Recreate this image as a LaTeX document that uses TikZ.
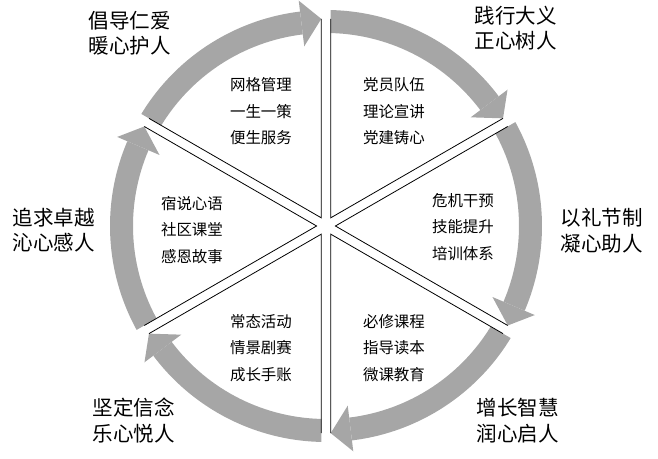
\documentclass[tikz,border=0pt]{standalone}
\usepackage{fontspec}
\usepackage{tikz}
\usetikzlibrary{calc}
\newfontfamily\cjk{Noto Sans CJK SC}
\definecolor{RingGray}{RGB}{166,166,166}

\begin{document}
\begin{tikzpicture}[x=0.75pt,y=0.75pt,
  motto/.style={align=center,font=\cjk\fontsize{15.4pt}{19.1pt}\selectfont},
  task/.style={align=center,font=\cjk\fontsize{11.6pt}{19.9pt}\selectfont}]
\useasboundingbox (-326,-233) rectangle (332,226);
\coordinate (C) at (0,0);
\foreach \s [count=\k] in {150,90,30,-30,-90,-150}{
  \pgfmathsetmacro{\e}{\s-60}
  \pgfmathsetmacro{\m}{\s-30}
  \pgfmathsetmacro{\b}{\e+6.9}
  \coordinate (V\k) at (\m:9.4);
  \coordinate (S\k) at ($(V\k)+(\s:199)$);
  \coordinate (E\k) at ($(V\k)+(\e:199)$);
  \begin{scope}
    \clip (V\k) -- ($(V\k)+(\s:400)$) -- ($(V\k)+(\e:400)$) -- cycle;
    \fill[RingGray] (\s:216) arc[start angle=\s,end angle=\b,radius=216]
      -- (\b:193) arc[start angle=\b,end angle=\s,radius=193] -- cycle;
  \end{scope}
  \fill[RingGray] (E\k) -- (\b:227) -- (\b:181) -- cycle;
  \draw[line width=0.6pt] (S\k) -- (V\k) -- (E\k);
}

\node[motto] (m1) at (-196,193) {倡导仁爱\\暖心护人};
\node[motto] (m2) at (190,198) {践行大义\\正心树人};
\node[motto] (m3) at (276,-4.5) {以礼节制\\凝心助人};
\node[motto] (m4) at (192,-194.5) {增长智慧\\润心启人};
\node[motto] (m5) at (-192,-194.5) {坚定信念\\乐心悦人};
\node[motto] (m6) at (-272,-4) {追求卓越\\沁心感人};

\node[task] (g1) at (-65,114.5) {网格管理\\一生一策\\便生服务};
\node[task] (g2) at (68,114.5) {党员队伍\\理论宣讲\\党建铸心};
\node[task] (g3) at (137,-1) {危机干预\\技能提升\\培训体系};
\node[task] (g4) at (68,-122) {必修课程\\指导读本\\微课教育};
\node[task] (g5) at (-65,-122) {常态活动\\情景剧赛\\成长手账};
\node[task] (g6) at (-134,-4) {宿说心语\\社区课堂\\感恩故事};
\end{tikzpicture}
\end{document}
